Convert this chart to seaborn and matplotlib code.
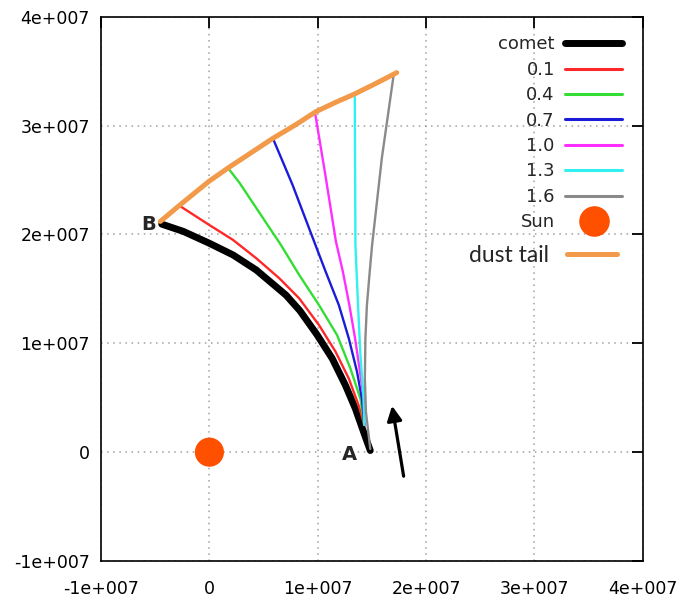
import numpy as np
import pandas as pd
import matplotlib
matplotlib.use("Agg")
import matplotlib.pyplot as plt
import matplotlib.ticker as mticker
from matplotlib.lines import Line2D
import seaborn as sns

# values in units of 1e7 km
comet_x = [1.485, 1.424, 1.348, 1.256, 1.134, 0.996, 0.835, 0.707, 0.432, 0.218, -0.002, -0.240, -0.440]
comet_y = [0.015, 0.184, 0.399, 0.614, 0.860, 1.075, 1.300, 1.443, 1.674, 1.812, 1.920, 2.028, 2.095]

tail_x = [-0.453, -0.270, -0.002, 0.172, 0.584, 0.799, 0.982, 1.165, 1.332, 1.531, 1.729]
tail_y = [2.120, 2.273, 2.490, 2.611, 2.882, 3.010, 3.128, 3.214, 3.287, 3.385, 3.487]

syn_labels = ["0.1", "0.4", "0.7", "1.0", "1.3", "1.6"]
syn_colors = ["#ff2828", "#33dd33", "#1c1cd8", "#ff30ff", "#30f0f0", "#8a8a8a"]
syn_x = [
    [1.43, 1.378, 1.287, 1.165, 1.012, 0.829, 0.646, 0.432, 0.218, -0.002, -0.270],
    [1.43, 1.394, 1.302, 1.179, 1.012, 0.829, 0.660, 0.279, 0.172],
    [1.43, 1.408, 1.363, 1.287, 1.195, 1.073, 0.958, 0.767, 0.584],
    [1.43, 1.424, 1.390, 1.345, 1.292, 1.232, 1.168, 1.070, 0.975],
    [1.43, 1.424, 1.394, 1.372, 1.348, 1.342],
    [1.485, 1.445, 1.435, 1.440, 1.454, 1.480, 1.502, 1.592, 1.700],
]
syn_y = [
    [0.25, 0.429, 0.676, 0.922, 1.167, 1.413, 1.597, 1.782, 1.950, 2.088, 2.260],
    [0.25, 0.491, 0.768, 1.075, 1.351, 1.628, 1.904, 2.473, 2.611],
    [0.25, 0.491, 0.737, 1.045, 1.351, 1.659, 1.958, 2.457, 2.888],
    [0.25, 0.491, 0.737, 1.044, 1.351, 1.659, 1.935, 2.549, 3.120],
    [0.25, 0.491, 0.890, 1.351, 1.904, 3.290],
    [0.030, 0.369, 0.676, 1.044, 1.351, 1.659, 1.904, 2.703, 3.460],
]

sun_x = [0.0]
sun_y = [0.0]

arrow_tail = [1.793, -0.221]
arrow_head = [1.686, 0.426]
label_A = [1.289, -0.02]
label_B = [-0.564, 2.09]

ticks = [-1, 0, 1, 2, 3, 4]

scale = 1e7
sun_color = "#ff5000"
tail_color = "#f29a4a"

sns.set_style("white")
plt.rcParams["font.family"] = ["DejaVu Sans"]

fig = plt.figure(figsize=(6.83, 6.0), dpi=100)
ax = fig.add_axes([0.148, 0.065, 0.793, 0.907])

comet = pd.DataFrame({"x": np.array(comet_x) * scale, "y": np.array(comet_y) * scale})
tail = pd.DataFrame({"x": np.array(tail_x) * scale, "y": np.array(tail_y) * scale})

sns.lineplot(data=comet, x="x", y="y", sort=False, estimator=None, color="black",
             linewidth=5, ax=ax, zorder=3)
for lab, col, xs, ys in zip(syn_labels, syn_colors, syn_x, syn_y):
    d = pd.DataFrame({"x": np.array(xs) * scale, "y": np.array(ys) * scale})
    sns.lineplot(data=d, x="x", y="y", sort=False, estimator=None, color=col,
                 linewidth=1.7, ax=ax, zorder=4)
sns.lineplot(data=tail, x="x", y="y", sort=False, estimator=None, color=tail_color,
             linewidth=3.6, ax=ax, zorder=5)
sns.scatterplot(x=np.array(sun_x) * scale, y=np.array(sun_y) * scale, s=440,
                color=sun_color, edgecolor="none", ax=ax, zorder=6)

ax.annotate("", xy=(arrow_head[0] * scale, arrow_head[1] * scale),
            xytext=(arrow_tail[0] * scale, arrow_tail[1] * scale),
            arrowprops=dict(arrowstyle="-|>", color="black", lw=2.3,
                            mutation_scale=22, shrinkA=0, shrinkB=0))
ax.text(label_A[0] * scale, label_A[1] * scale, "A", fontsize=14, fontweight="bold",
        ha="center", va="center")
ax.text(label_B[0] * scale, label_B[1] * scale, "B", fontsize=14, fontweight="bold",
        ha="center", va="center")

ax.set_xlim(-1e7, 4e7)
ax.set_ylim(-1e7, 4e7)
ax.set_xticks([t * scale for t in ticks])
ax.set_yticks([t * scale for t in ticks])


def fmt(v, pos):
    if abs(v) < 1:
        return "0"
    return "%de+007" % round(v / scale)


ax.xaxis.set_major_formatter(mticker.FuncFormatter(fmt))
ax.yaxis.set_major_formatter(mticker.FuncFormatter(fmt))
ax.set_xlabel("")
ax.set_ylabel("")
ax.tick_params(direction="in", length=8, width=1.3, top=True, right=True,
               labelsize=12.5, colors="black")
ax.tick_params(axis="y", pad=8)
ax.tick_params(axis="x", pad=14)
ax.grid(True, color="#a0a0a0", linestyle=(0, (1, 3)), linewidth=1.1)
for sp in ax.spines.values():
    sp.set_color("black")
    sp.set_linewidth(1.2)

handles = [Line2D([], [], color="black", lw=5)]
handles += [Line2D([], [], color=c, lw=2.2) for c in syn_colors]
handles += [Line2D([], [], color=sun_color, marker="o", markersize=21, lw=0)]
leg = ax.legend(handles, ["comet"] + syn_labels + ["Sun"], loc="upper right",
                bbox_to_anchor=(0.976, 0.979), frameon=False, markerfirst=False,
                fontsize=13, handlelength=3.2, handletextpad=0.55, labelspacing=0.41,
                borderaxespad=0)
ax.add_artist(leg)

leg2 = ax.legend([Line2D([], [], color=tail_color, lw=3.6)], ["dust tail"],
                 loc="upper right", bbox_to_anchor=(0.970, 0.597), frameon=False,
                 markerfirst=False, handlelength=2.2, handletextpad=0.8,
                 borderaxespad=0, prop={"family": "Lato", "size": 16.5})

fig.savefig("out.png", dpi=100)
